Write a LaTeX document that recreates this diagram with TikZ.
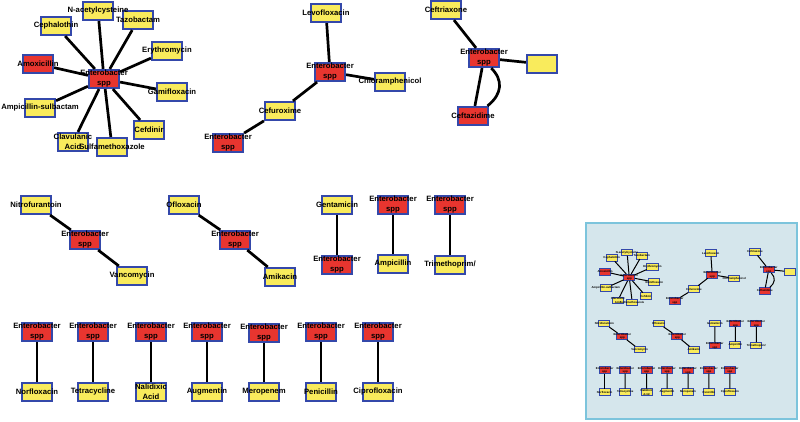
\documentclass[tikz,border=0pt]{standalone}
\usepackage{fontspec}
\setmainfont{Liberation Sans}
\usetikzlibrary{calc}
\definecolor{rednode}{HTML}{E8352F}
\definecolor{yelnode}{HTML}{F9EB5C}
\definecolor{bord}{HTML}{3448AA}
\definecolor{insetfill}{HTML}{D5E6EC}
\definecolor{insetline}{HTML}{7CC4DC}
\tikzset{
  gbox/.style={draw=bord, line width=\bw, minimum width=30pt, minimum height=18pt, inner sep=0pt},
  rn/.style={gbox, fill=rednode},
  yn/.style={gbox, fill=yelnode},
  edge/.style={line width=\ew, black},
  lbl/.style={font=\fontsize{7.7}{10}\selectfont\bfseries, align=center, inner sep=0pt, text=black},
}
\newcommand\bx[3]{\node[#2] (\pfx#1) at (#3) {};}
\newcommand\tx[2]{\node[lbl] (\pfx#1t) at (\pfx#1) {#2};}
\newcommand\ed[2]{\draw[edge] (\pfx#1) -- (\pfx#2);}
\newcommand\drawnet{%
  % boxes
  \bx{hA}{rn}{104,79}\bx{nac}{yn}{98,11}\bx{taz}{yn}{138,20}\bx{cep}{yn}{56,26}
  \bx{ery}{yn}{167,51}\bx{amo}{rn}{38,64}\bx{gam}{yn}{172,92}\bx{amp}{yn}{40,108}
  \bx{cef}{yn}{149,130}\bx{cla}{yn}{73,142}\bx{sul}{yn}{112,147}
  \bx{hB}{rn}{330,72}\bx{lev}{yn}{326,13}\bx{chl}{yn}{390,82}\bx{cfx}{yn}{280,111}\bx{eB}{rn}{228,143}
  \bx{hC}{rn}{484,58}\bx{ctr}{yn}{446,10}\bx{emp}{yn}{542,64}\bx{ctz}{rn}{473,116}
  \bx{hD}{rn}{85,240}\bx{nit}{yn}{36,205}\bx{van}{yn}{132,276}
  \bx{hE}{rn}{235,240}\bx{ofl}{yn}{184,205}\bx{ami}{yn}{280,277}
  \bx{gen}{yn}{337,205}\bx{eF}{rn}{337,265}
  \bx{eG}{rn}{393,205}\bx{ampi}{yn}{393,264}
  \bx{eH}{rn}{450,205}\bx{tri}{yn}{450,265}
  \bx{ba}{rn}{37,332}\bx{ca}{yn}{37,392}
  \bx{bb}{rn}{93,332}\bx{cb}{yn}{93,392}
  \bx{bc}{rn}{151,332}\bx{cc}{yn}{151,392}
  \bx{bd}{rn}{207,332}\bx{cd}{yn}{207,392}
  \bx{be}{rn}{264,333}\bx{ce}{yn}{264,392}
  \bx{bf}{rn}{321,332}\bx{cf}{yn}{321,392}
  \bx{bg}{rn}{378,332}\bx{cg}{yn}{378,392}
  % edges
  \ed{hA}{nac}\ed{hA}{taz}\ed{hA}{cep}\ed{hA}{ery}\ed{hA}{amo}
  \ed{hA}{gam}\ed{hA}{amp}\ed{hA}{cef}\ed{hA}{cla}\ed{hA}{sul}
  \ed{hB}{lev}\ed{hB}{chl}\ed{hB}{cfx}\ed{cfx}{eB}
  \ed{hC}{ctr}\ed{hC}{emp}\ed{hC}{ctz}
  \draw[edge] ($(\pfx hC.south)!0.45!(\pfx hC.south east)$) .. controls +(12,12) and +(15,-12) .. ($(\pfx ctz.north)!0.9!(\pfx ctz.north east)$);
  \ed{hD}{nit}\ed{hD}{van}\ed{hE}{ofl}\ed{hE}{ami}
  \ed{gen}{eF}\ed{eG}{ampi}\ed{eH}{tri}
  \ed{ba}{ca}\ed{bb}{cb}\ed{bc}{cc}\ed{bd}{cd}\ed{be}{ce}\ed{bf}{cf}\ed{bg}{cg}
  % texts
  \tx{hA}{Enterobacter\\spp}\tx{nac}{N-acetylcysteine}\tx{taz}{Tazobactam}
  \tx{cep}{Cephalothin}\tx{ery}{Erythromycin}\tx{amo}{Amoxicillin}
  \tx{gam}{Gamifloxacin}\tx{amp}{Ampicillin-sulbactam}\tx{cef}{Cefdinir}
  \tx{cla}{Clavulanic\\Acid}\tx{sul}{Sulfamethoxazole}
  \tx{hB}{Enterobacter\\spp}\tx{lev}{Levofloxacin}\tx{chl}{Chloramphenicol}
  \tx{cfx}{Cefuroxime}\tx{eB}{Enterobacter\\spp}
  \tx{hC}{Enterobacter\\spp}\tx{ctr}{Ceftriaxone}\tx{emp}{}\tx{ctz}{Ceftazidime}
  \tx{hD}{Enterobacter\\spp}\tx{nit}{Nitrofurantoin}\tx{van}{Vancomycin}
  \tx{hE}{Enterobacter\\spp}\tx{ofl}{Ofloxacin}\tx{ami}{Amikacin}
  \tx{gen}{Gentamicin}\tx{eF}{Enterobacter\\spp}
  \tx{eG}{Enterobacter\\spp}\tx{ampi}{Ampicillin}
  \tx{eH}{Enterobacter\\spp}\tx{tri}{Trimethoprim/}
  \tx{ba}{Enterobacter\\spp}\tx{ca}{Norfloxacin}
  \tx{bb}{Enterobacter\\spp}\tx{cb}{Tetracycline}
  \tx{bc}{Enterobacter\\spp}\tx{cc}{Nalidixic\\Acid}
  \tx{bd}{Enterobacter\\spp}\tx{cd}{Augmentin}
  \tx{be}{Enterobacter\\spp}\tx{ce}{Meropenem}
  \tx{bf}{Enterobacter\\spp}\tx{cf}{Penicillin}
  \tx{bg}{Enterobacter\\spp}\tx{cg}{Ciprofloxacin}
}
\begin{document}
\begin{tikzpicture}[x=1pt,y=-1pt]
  \useasboundingbox (0,0) rectangle (800,422);
  \def\pfx{m}\def\ew{2.7pt}\def\bw{2.2pt}
  \drawnet
  \node[draw=insetline, fill=insetfill, line width=2pt, minimum width=211pt, minimum height=196pt, inner sep=0pt] (inset) at (691,320.5) {};
  \begin{scope}[shift={(591.1,248.3)}, scale=0.367, transform shape]
    \def\pfx{s}\def\ew{1pt}\def\bw{0.8pt}
    \drawnet
  \end{scope}
\end{tikzpicture}
\end{document}
